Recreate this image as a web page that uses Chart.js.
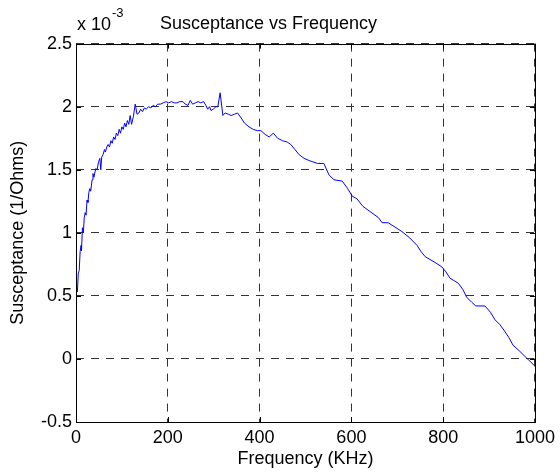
<!DOCTYPE html>
<html>
<head>
<meta charset="utf-8">
<script src="https://cdn.jsdelivr.net/npm/chart.js@4.4.1/dist/chart.umd.min.js"></script>
<style>
    html, body { margin: 0; padding: 0; background: #fff; }
    #wrap { width: 560px; height: 473px; }
</style>
</head>
<body>
<div id="wrap"><canvas id="grafico"></canvas></div>
<script>
// frequencia em KHz
const frequencias = [
    3, 5, 7, 9, 11, 12, 14, 16, 18, 20, 22, 24, 26, 28, 30, 32, 35, 37, 39, 43,
    46, 49, 52, 54, 56, 59, 62, 64, 67, 70, 73, 76, 79, 82, 85, 88, 91, 94, 97, 100,
    103, 106, 109, 112, 115, 118, 121, 125, 129, 133, 137, 141, 145, 149, 153, 158, 163, 168, 173, 178,
    184, 190, 196, 202, 208, 214, 220, 226, 233, 238, 244, 249, 254, 260, 266, 272, 278, 283, 287, 291,
    294, 299, 305, 309, 314, 320, 325, 332, 338, 345, 352, 360, 367, 377, 386, 395, 403, 412, 421, 430,
    439, 450, 460, 468, 477, 486, 497, 510, 526, 540, 551, 562, 580, 592, 602, 612, 625, 640, 659, 667,
    680, 693, 710, 727, 743, 752, 761, 780, 797, 806, 815, 824, 833, 843, 851, 862, 871, 891, 903, 913,
    924, 934, 943, 952, 967, 981, 998
];

// susceptancia em 1e-3 (1/Ohms)
const susceptancia = [
    0.53, 0.68, 0.70, 0.85, 0.90, 0.86, 1.04, 1.00, 1.12, 1.16, 1.14, 1.26, 1.24, 1.32, 1.35, 1.33, 1.42, 1.47, 1.44, 1.51,
    1.50, 1.56, 1.59, 1.50, 1.60, 1.62, 1.66, 1.64, 1.68, 1.70, 1.68, 1.73, 1.71, 1.76, 1.74, 1.79, 1.77, 1.82, 1.79, 1.84,
    1.82, 1.87, 1.84, 1.89, 1.86, 1.93, 1.86, 1.92, 2.02, 1.94, 1.95, 1.98, 1.96, 1.99, 1.98, 2.00, 1.99, 2.01, 2.00, 2.02,
    2.02, 2.03, 2.04, 2.03, 2.04, 2.03, 2.03, 2.04, 2.04, 2.02, 2.01, 2.05, 2.02, 2.03, 2.04, 2.03, 2.04, 2.01, 1.98, 2.00,
    1.97, 1.98, 2.00, 2.00, 2.11, 1.93, 1.95, 1.94, 1.93, 1.94, 1.95, 1.91, 1.87, 1.84, 1.82, 1.81, 1.81, 1.78, 1.76, 1.79,
    1.75, 1.73, 1.72, 1.70, 1.66, 1.62, 1.59, 1.57, 1.55, 1.55, 1.46, 1.42, 1.41, 1.35, 1.29, 1.27, 1.21, 1.17, 1.12, 1.08,
    1.08, 1.05, 1.01, 0.96, 0.90, 0.85, 0.81, 0.77, 0.73, 0.69, 0.64, 0.62, 0.60, 0.55, 0.49, 0.45, 0.42, 0.42, 0.37, 0.31,
    0.27, 0.22, 0.17, 0.11, 0.06, 0.01, -0.05
];

const ticksX = [0, 200, 400, 600, 800, 1000];
const ticksY = [-0.5, 0, 0.5, 1, 1.5, 2, 2.5];

const fonte = "'Liberation Sans', Arial, sans-serif";

// moldura da area do grafico, tracinhos internos e o "x 10^-3"
const moldura = {
    id: "moldura",
    afterDraw(chart) {
        const { ctx, chartArea: a, scales: { x, y } } = chart;
        ctx.save();
        ctx.strokeStyle = "#000";
        ctx.lineWidth = 1;
        ctx.setLineDash([]);
        ctx.strokeRect(Math.round(a.left) + 0.5, Math.round(a.top) + 0.5,
            Math.round(a.right - a.left), Math.round(a.bottom - a.top));

        ctx.beginPath();
        ticksX.forEach(v => {
            const px = Math.round(x.getPixelForValue(v)) + 0.5;
            ctx.moveTo(px, a.top); ctx.lineTo(px, a.top + 5);
            ctx.moveTo(px, a.bottom); ctx.lineTo(px, a.bottom - 5);
        });
        ticksY.forEach(v => {
            const py = Math.round(y.getPixelForValue(v)) + 0.5;
            ctx.moveTo(a.left, py); ctx.lineTo(a.left + 5, py);
            ctx.moveTo(a.right, py); ctx.lineTo(a.right - 5, py);
        });
        ctx.stroke();

        ctx.fillStyle = "#000";
        ctx.textAlign = "left";
        ctx.textBaseline = "alphabetic";
        ctx.font = "18px " + fonte;
        ctx.fillText("x 10", a.left + 1, 30);
        const w = ctx.measureText("x 10").width;
        ctx.font = "13px " + fonte;
        ctx.fillText("-3", a.left + 1 + w + 1, 17);
        ctx.restore();
    }
};

new Chart(document.getElementById("grafico"), {
    type: "scatter",
    data: {
        datasets: [{
            data: frequencias.map((f, i) => ({ x: f, y: susceptancia[i] })),
            showLine: true,
            borderColor: "#0000ff",
            borderWidth: 1,
            pointRadius: 0,
            tension: 0
        }]
    },
    options: {
        responsive: true,
        maintainAspectRatio: false,
        animation: false,
        layout: { padding: { left: 0, right: 23, top: 0, bottom: 0 } },
        plugins: {
            legend: { display: false },
            tooltip: { enabled: false },
            title: {
                display: true,
                text: "Susceptance vs Frequency",
                color: "#000",
                font: { family: fonte, size: 18, weight: "normal" },
                padding: { top: 13, bottom: 9 }
            }
        },
        scales: {
            x: {
                type: "linear",
                min: 0,
                max: 1000,
                afterBuildTicks: s => { s.ticks = ticksX.map(v => ({ value: v })); },
                afterFit: s => { s.height = 51; },
                ticks: {
                    color: "#000",
                    font: { family: fonte, size: 18 },
                    padding: 5,
                    maxRotation: 0,
                    callback: v => String(v)
                },
                grid: { color: "#333", lineWidth: 1, drawTicks: false },
                border: { display: false, dash: [8, 7] },
                title: {
                    display: true,
                    text: "Frequency (KHz)",
                    color: "#000",
                    font: { family: fonte, size: 18 },
                    padding: { top: 0, bottom: 3 }
                }
            },
            y: {
                type: "linear",
                min: -0.5,
                max: 2.5,
                afterBuildTicks: s => { s.ticks = ticksY.map(v => ({ value: v })); },
                afterFit: s => { s.width = 76; },
                ticks: {
                    color: "#000",
                    font: { family: fonte, size: 18 },
                    padding: 4,
                    callback: v => String(+v.toFixed(1))
                },
                grid: { color: "#333", lineWidth: 1, drawTicks: false },
                border: { display: false, dash: [8, 7] },
                title: {
                    display: true,
                    text: "Susceptance (1/Ohms)",
                    color: "#000",
                    font: { family: fonte, size: 18 },
                    padding: { top: 7, bottom: 0 }
                }
            }
        }
    },
    plugins: [moldura]
});
</script>
</body>
</html>
